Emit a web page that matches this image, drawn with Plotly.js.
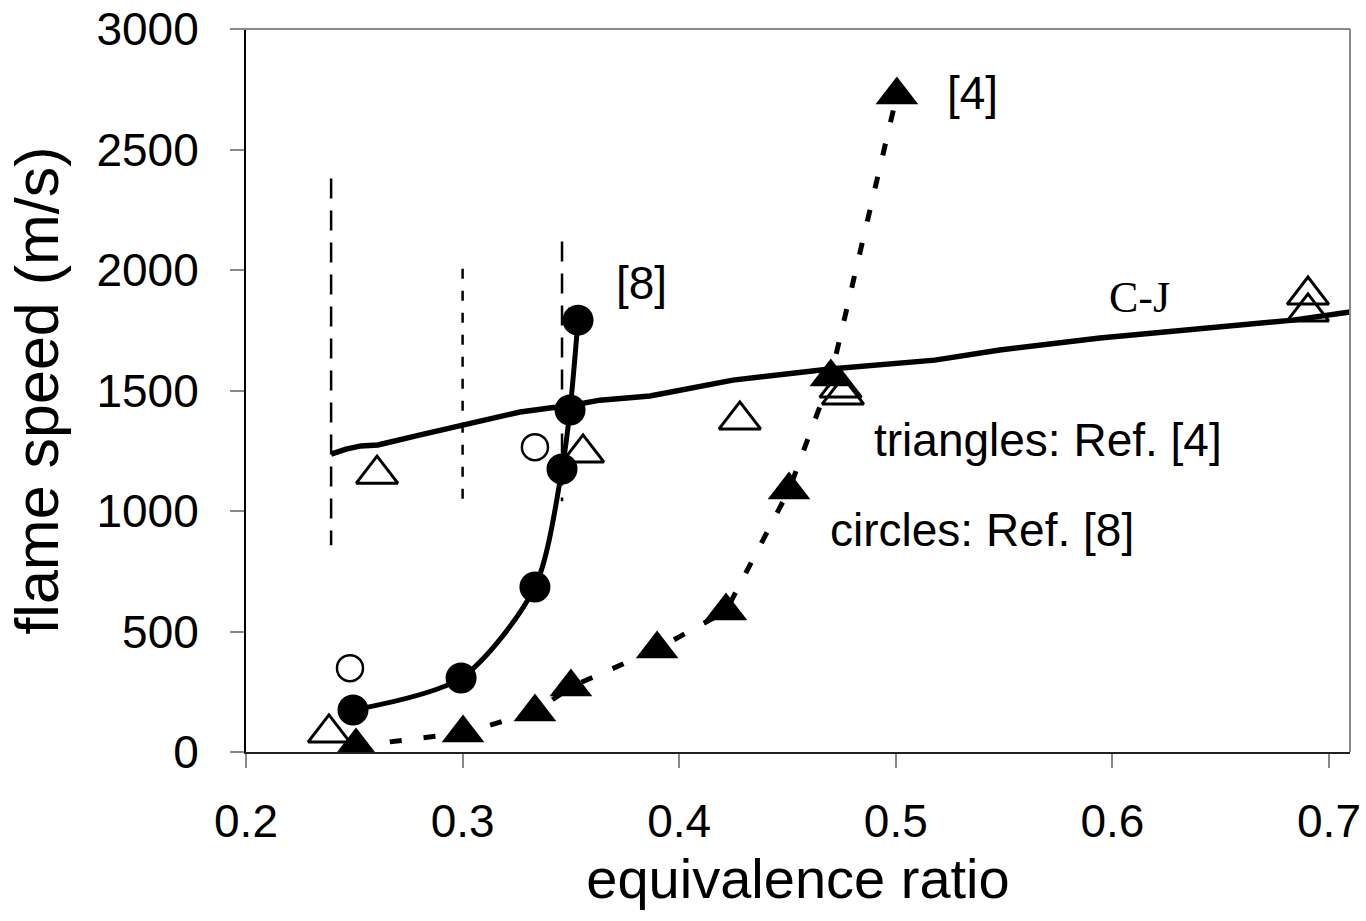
<!DOCTYPE html>
<html>
<head>
<meta charset="utf-8">
<script src="https://cdn.plot.ly/plotly-3.0.1.min.js"></script>
<style>html,body{margin:0;padding:0;background:#fff;}#chart{width:1366px;height:921px;}</style>
</head>
<body>
<div id="chart"></div>
<script>
// ---- data ----
// C-J (Chapman-Jouguet) speed curve
const cjPhi   = [0.2393, 0.2462, 0.2530, 0.2609, 0.2800, 0.2993, 0.3265, 0.3403, 0.3500, 0.3634, 0.3865, 0.4248, 0.4696, 0.5180, 0.5480, 0.5943, 0.6405, 0.6834, 0.7097, 0.7170];
const cjSpeed = [1236, 1257, 1270, 1274, 1315, 1357, 1411, 1427, 1438, 1460, 1477, 1543, 1589, 1626, 1668, 1718, 1759, 1792, 1826, 1830];

// Present results, Ref. [8] conditions (filled circles, solid curve)
const ref8Phi   = [0.2494, 0.2993, 0.3334, 0.3459, 0.3496, 0.3533];
const ref8Speed = [174, 307, 685, 1174, 1419, 1792];

// Present results, Ref. [4] conditions (filled triangles, dashed curve)
const ref4Phi   = [0.2508, 0.3002, 0.3334, 0.3500, 0.3898, 0.4216, 0.4507, 0.4700, 0.5005];
const ref4Speed = [25, 79, 166, 270, 427, 585, 1087, 1556, 2726];

// Experimental data, open circles: Ref. [8]
const expCirclePhi   = [0.2480, 0.3334];
const expCircleSpeed = [348, 1265];

// Experimental data, open triangles: Ref. [4]
const expTriPhi   = [0.2383, 0.2605, 0.3556, 0.4280, 0.4745, 0.4756, 0.6903, 0.6903];
const expTriSpeed = [79, 1153, 1241, 1378, 1510, 1481, 1896, 1826];

// Vertical limit markers (phi, top, bottom)
const limitPhi    = [0.2393, 0.3000, 0.3459];
const limitTop    = [2380, 2005, 2118];
const limitBottom = [858, 1002, 1040];
const limitDash   = ['20px,12px', '10px,12px', '20px,12px'];

// Tick values
const xTicks = [0.2, 0.3, 0.4, 0.5, 0.6, 0.7];
const yTicks = [0, 500, 1000, 1500, 2000, 2500, 3000];

// Text labels
const labels = [
  {text: '[8]', phi: 0.3828, speed: 1946, serif: false, anchor: 'center'},
  {text: '[4]', phi: 0.5352, speed: 2734, serif: false, anchor: 'center'},
  {text: 'C-J', phi: 0.6127, speed: 1884, serif: true, anchor: 'center'},
  {text: 'triangles: Ref. [4]', phi: 0.4890, speed: 1294, serif: false, anchor: 'left'},
  {text: 'circles: Ref. [8]', phi: 0.4687, speed: 921, serif: false, anchor: 'left'}
];

// ---- traces ----
const sans = 'Liberation Sans, Arial, sans-serif';
const serif = 'Liberation Serif, Times New Roman, serif';
const traces = [];

traces.push({x: cjPhi, y: cjSpeed, mode: 'lines', line: {color: '#000', width: 5.5}, hoverinfo: 'skip'});

limitPhi.forEach((p, i) => {
  traces.push({x: [p, p], y: [limitTop[i], limitBottom[i]], mode: 'lines',
    line: {color: '#000', width: 2.5, dash: limitDash[i]}, hoverinfo: 'skip'});
});

traces.push({x: ref8Phi, y: ref8Speed, mode: 'lines+markers',
  line: {color: '#000', width: 5, shape: 'spline', smoothing: 0.8},
  marker: {symbol: 'circle', size: 31, color: '#000'}});

traces.push({x: ref4Phi, y: ref4Speed, mode: 'lines+markers',
  line: {color: '#000', width: 5, dash: '12px,22px'},
  marker: {symbol: 'triangle-up', size: 37, color: '#000'}});

traces.push({x: expCirclePhi, y: expCircleSpeed, mode: 'markers',
  marker: {symbol: 'circle', size: 26, color: 'rgba(0,0,0,0)', line: {color: '#000', width: 2.5}}});

traces.push({x: expTriPhi, y: expTriSpeed, mode: 'markers',
  marker: {symbol: 'triangle-up', size: 36, color: 'rgba(0,0,0,0)', line: {color: '#000', width: 3}}});

const annotations = labels.map(l => ({
  x: l.phi, y: l.speed, xref: 'x', yref: 'y', text: l.text, showarrow: false,
  xanchor: l.anchor, yanchor: 'middle',
  font: {family: l.serif ? serif : sans, size: l.serif ? 44 : 46, color: '#000'}
}));

const layout = {
  width: 1366, height: 921,
  margin: {l: 246, r: 16, t: 29, b: 169},
  paper_bgcolor: '#fff', plot_bgcolor: '#fff',
  showlegend: false,
  font: {family: sans, color: '#000'},
  xaxis: {
    range: [0.2, 0.7097], tickvals: xTicks, ticktext: xTicks.map(v => v.toFixed(1)),
    ticks: 'outside', ticklen: 14, tickwidth: 2, tickcolor: '#888',
    showline: true, linecolor: '#222', linewidth: 2,
    showgrid: false, zeroline: false,
    tickfont: {family: sans, size: 46, color: '#000'},
    ticklabelstandoff: 14,
    title: {text: 'equivalence ratio', font: {family: sans, size: 56, color: '#000'}, standoff: 6},
    automargin: false
  },
  yaxis: {
    range: [0, 3000], tickvals: yTicks, ticktext: yTicks.map(String),
    ticks: 'outside', ticklen: 14, tickwidth: 2, tickcolor: '#888',
    showline: true, linecolor: '#000', linewidth: 2,
    showgrid: false, zeroline: false,
    tickfont: {family: sans, size: 46, color: '#000'},
    ticklabelstandoff: 22,
    title: {text: 'flame speed (m/s)', font: {family: sans, size: 61, color: '#000'}, standoff: 18},
    automargin: false
  },
  shapes: [
    {type: 'line', xref: 'paper', yref: 'paper', x0: -0.013, x1: 1, y0: 1, y1: 1, line: {color: '#888', width: 2}},
    {type: 'line', xref: 'paper', yref: 'paper', x0: 1, x1: 1, y0: 0, y1: 1, line: {color: '#888', width: 2}}
  ],
  annotations: annotations
};

Plotly.newPlot('chart', traces, layout, {displayModeBar: false, staticPlot: true});
</script>
</body>
</html>
